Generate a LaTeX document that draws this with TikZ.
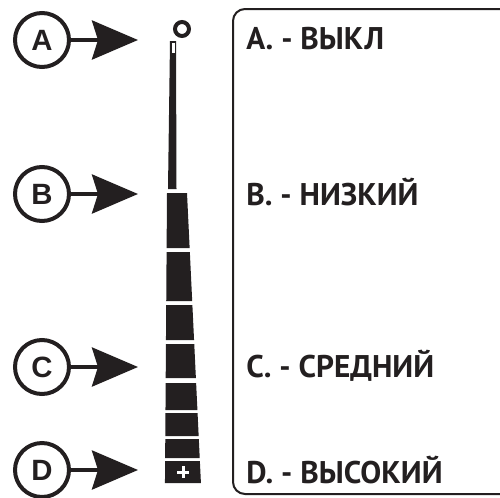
\documentclass[tikz,border=0pt]{standalone}
\usepackage{fontspec}
\setmainfont{PT Sans}
\newfontfamily\circfont{Liberation Sans}
\usepackage{xcolor}
\usetikzlibrary{arrows.meta}
\definecolor{ink}{HTML}{231F20}
\tikzset{ letter_circ/.style = {circle, draw=ink, line width=3pt, minimum size=40.5pt, inner sep=0pt, text=ink, font=\circfont\bfseries\fontsize{22}{22}\selectfont} }
\tikzset{ level_text/.style = {anchor=base west, inner sep=0pt, text=ink, font=\bfseries\fontsize{23.5}{27}\selectfont} }
\tikzset{ pointer/.style = {draw=ink, line width=3pt, -{Stealth[length=34.5pt, width=29.25pt, inset=4.5pt]}} }

\begin{document}
\begin{tikzpicture}[x=0.75pt,y=-0.75pt]
        \useasboundingbox (0,0) rectangle (500,497);
        % frame
        \draw[ink, line width=1.5pt, rounded corners=9pt] (505,9) -- (233,9) -- (233,494) -- (505,494);
        % letters
        \node[letter_circ] (a) at (42,40) {A};
        \node[letter_circ] (b) at (42,194) {B};
        \node[letter_circ] (c) at (42,367) {C};
        \node[letter_circ] (d) at (42,470) {D};
        \coordinate (ta) at (138,40);
        \coordinate (tb) at (138,194);
        \coordinate (tc) at (138,367);
        \coordinate (td) at (138,470);
        \draw[pointer] (a) -- (ta);
        \draw[pointer] (b) -- (tb);
        \draw[pointer] (c) -- (tc);
        \draw[pointer] (d) -- (td);
        % level bar
        \draw[ink, line width=3pt] (182,29) circle (5.25pt);
        \fill[ink] (170,41) -- (176,41) -- (176.5,189) -- (168,189) -- cycle;
        \fill[white] (171.5,42.5) rectangle (174.5,53);
        \foreach \ya/\yb in {193/248, 252/301, 305/340, 344/378, 383/410, 413/436, 439/458, 461/483}
            \fill[ink] ({167-(\ya-193)*0.007},\ya) -- ({187+(\ya-193)*0.048},\ya) -- ({187+(\yb-193)*0.048},\yb) -- ({167-(\yb-193)*0.007},\yb) -- cycle;
        \draw[white, line width=2.25pt] (177,472) -- (189,472) (183,466) -- (183,478);
        % texts
        \node[level_text] (la) at (246,49) {A. - ВЫКЛ};
        \node[level_text] (lb) at (246,205) {B. - НИЗКИЙ};
        \node[level_text] (lc) at (246,377) {C. - СРЕДНИЙ};
        \node[level_text] (ld) at (246,483) {D. - ВЫСОКИЙ};
        \end{tikzpicture}
\end{document}
